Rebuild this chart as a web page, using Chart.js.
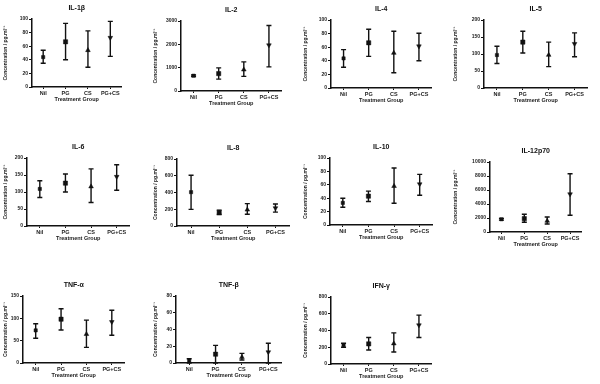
<!DOCTYPE html>
<html>
<head>
<meta charset="utf-8">
<script src="https://cdn.jsdelivr.net/npm/chart.js@4.4.0/dist/chart.umd.min.js"></script>
<style>
  body { margin: 0; background: #fff; width: 600px; height: 384px; position: relative; overflow: hidden; }
  .panel { position: absolute; }
</style>
</head>
<body>
<script>
const groups = ["Nil", "PG", "CS", "PG+CS"];

const il1bMean = [44, 66.5, 54, 72.5];
const il1bLow = [35, 40, 29, 45];
const il1bHigh = [54, 93.5, 82.5, 96.5];

const il2Mean = [655, 745, 915, 1965];
const il2Low = [620, 510, 625, 1035];
const il2High = [690, 990, 1250, 2810];

const il4Mean = [43.5, 66.5, 51.5, 61.5];
const il4Low = [30.5, 46.5, 22.5, 40];
const il4High = [56.5, 86.5, 83.5, 80.5];

const il5Mean = [97, 135, 97, 130];
const il5Low = [72, 103, 63, 92];
const il5High = [123, 167, 135, 162];

const il6Mean = [109, 126, 116, 145];
const il6Low = [84, 100, 69, 105];
const il6High = [133, 153, 168, 180];

const il8Mean = [404, 162, 194, 214];
const il8Low = [198, 137, 141, 166];
const il8High = [606, 190, 267, 263];

const il10Mean = [33, 43, 58, 61];
const il10Low = [26.5, 35, 32.5, 44.5];
const il10High = [40, 50.5, 85, 75.5];

const il12Mean = [1820, 1910, 1580, 5410];
const il12Low = [1700, 1390, 1150, 2390];
const il12High = [1940, 2540, 2150, 8320];

const tnfaMean = [73, 98, 64.5, 92];
const tnfaLow = [55.5, 74, 35, 62];
const tnfaHigh = [88, 121.5, 96, 118];

const tnfbMean = [3, 10.5, 7, 13];
const tnfbLow = [0, 0, 3.5, 0];
const tnfbHigh = [5, 21, 11.5, 23.5];

const ifngMean = [224, 240, 244, 464];
const ifngLow = [200, 168, 144, 316];
const ifngHigh = [248, 316, 372, 584];

const yTitle = "Concentration / pg.ml⁻¹";
const xTitle = "Treatment Group";

const ink = "#111";
const fam = "'Liberation Sans', Arial, sans-serif";

// error bars drawn from the chart scales
const errorBars = {
    id: "errorBars",
    beforeDatasetsDraw(chart) {
        const ctx = chart.ctx;
        const x = chart.scales.x;
        const y = chart.scales.y;
        const ds = chart.data.datasets[0];
        ctx.save();
        ctx.strokeStyle = ink;
        ctx.lineWidth = 1.4;
        for (let i = 0; i < ds.data.length; i++) {
            const px = x.getPixelForValue(i);
            const top = y.getPixelForValue(ds.errHigh[i]);
            const bot = y.getPixelForValue(ds.errLow[i]);
            ctx.beginPath();
            ctx.moveTo(px, top);
            ctx.lineTo(px, bot);
            ctx.moveTo(px - 2.5, top);
            ctx.lineTo(px + 2.5, top);
            ctx.moveTo(px - 2.5, bot);
            ctx.lineTo(px + 2.5, bot);
            ctx.stroke();
        }
        ctx.restore();
    }
};

// name, means, lows, highs, y max, step, colLeft, axisX, plotRight, plotTop, plotBottom
const panels = [
    ["IL-1β", il1bMean, il1bLow, il1bHigh, 100, 20, 0, 32, 122, 20, 87],
    ["IL-2", il2Mean, il2Low, il2High, 3000, 1000, 150, 181, 282, 22, 91],
    ["IL-4", il4Mean, il4Low, il4High, 100, 20, 300, 331, 432, 21, 88],
    ["IL-5", il5Mean, il5Low, il5High, 200, 50, 450, 484, 588, 21, 88],
    ["IL-6", il6Mean, il6Low, il6High, 200, 50, 0, 27, 130, 159, 226],
    ["IL-8", il8Mean, il8Low, il8High, 800, 200, 150, 177, 290, 160, 226],
    ["IL-10", il10Mean, il10Low, il10High, 100, 20, 300, 330, 433, 159, 225],
    ["IL-12p70", il12Mean, il12Low, il12High, 10000, 2000, 450, 490, 582, 163, 232],
    ["TNF-α", tnfaMean, tnfaLow, tnfaHigh, 150, 50, 0, 23, 125, 297, 363],
    ["TNF-β", tnfbMean, tnfbLow, tnfbHigh, 80, 20, 150, 176, 282, 297, 363],
    ["IFN-γ", ifngMean, ifngLow, ifngHigh, 800, 200, 300, 331, 432, 298, 364]
];

const titleH = 22;
const xAxisH = 16;

for (const p of panels) {
    const [name, means, lows, highs, ymax, step, colLeft, axisX, plotRight, plotTop, plotBottom] = p;
    const w = plotRight - colLeft + 4;
    const h = titleH + (plotBottom - plotTop) + xAxisH;
    const canvas = document.createElement("canvas");
    canvas.className = "panel";
    canvas.width = w;
    canvas.height = h;
    canvas.style.left = colLeft + "px";
    canvas.style.top = (plotTop - titleH) + "px";
    canvas.style.width = w + "px";
    canvas.style.height = h + "px";
    document.body.appendChild(canvas);

    new Chart(canvas, {
        type: "line",
        data: {
            labels: groups,
            datasets: [{
                data: means,
                errLow: lows,
                errHigh: highs,
                showLine: false,
                borderColor: ink,
                backgroundColor: ink,
                pointStyle: ["rect", "rect", "triangle", "triangle"],
                pointRotation: [0, 0, 0, 180],
                pointRadius: [2.3, 3, 2.7, 2.7],
                pointBorderWidth: 0.5
            }]
        },
        options: {
            responsive: false,
            animation: false,
            devicePixelRatio: 1,
            layout: { padding: { right: 4 } },
            scales: {
                x: {
                    type: "category",
                    offset: true,
                    afterFit: s => { s.height = xAxisH; },
                    border: { display: true, color: ink, width: 1.5 },
                    grid: { display: true, drawOnChartArea: false, drawTicks: true, tickLength: 2, color: ink },
                    ticks: { color: "#222", padding: 1, maxRotation: 0, autoSkip: false, font: { family: fam, size: 5.5, weight: "bold" } },
                    title: { display: true, text: xTitle, color: "#222", padding: { top: 1, bottom: 0 }, font: { family: fam, size: 5.5, weight: "bold" } }
                },
                y: {
                    min: 0,
                    max: ymax,
                    afterFit: s => { s.width = axisX - colLeft; },
                    border: { display: true, color: ink, width: 1.5 },
                    grid: { display: true, drawOnChartArea: false, drawTicks: true, tickLength: 3, color: ink },
                    ticks: { stepSize: step, color: "#222", padding: 1, callback: v => v, font: { family: fam, size: 5, weight: "bold" } },
                    title: { display: true, text: yTitle, color: "#222", padding: { top: 3, bottom: 0 }, font: { family: fam, size: 5, weight: "bold" } }
                }
            },
            plugins: {
                legend: { display: false },
                tooltip: { enabled: false },
                title: {
                    display: true,
                    fullSize: false,
                    text: name,
                    color: ink,
                    padding: { top: 7, bottom: 7 },
                    font: { family: fam, size: 7, weight: "bold", lineHeight: 1 }
                }
            }
        },
        plugins: [errorBars]
    });
}
</script>
</body>
</html>
